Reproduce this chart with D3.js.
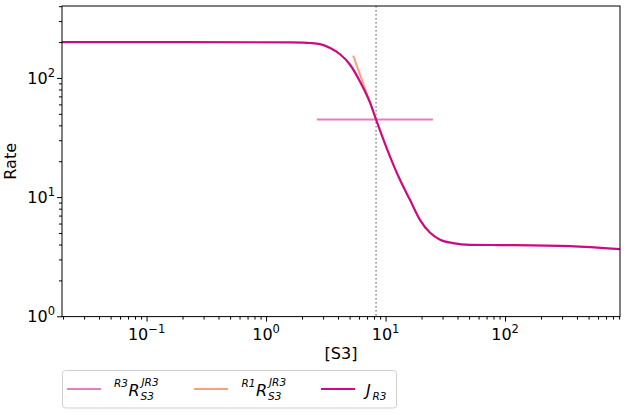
<!DOCTYPE html>
<html>
<head>
<meta charset="utf-8">
<script src="https://cdn.jsdelivr.net/npm/d3@7"></script>
<style>
  body { margin: 0; background: #fff; }
  svg { font-family: "DejaVu Sans", sans-serif; }
  .axis path, .axis line { stroke: #000; }
</style>
</head>
<body>
<svg id="chart" width="627" height="415"></svg>
<script>
//data
var sVals = [0.0196, 1.59, 2.04, 2.33, 2.83, 3.44, 4.16, 5.05, 6.12, 7.42, 8.33, 10.9, 13.2, 16.0, 19.4, 23.6, 28.6, 36.7, 50.9, 90.8, 350, 916];
var jVals = [200, 199, 198, 196.5, 192, 178, 158, 129, 93, 62, 44.8, 21.9, 13.97, 9.49, 6.45, 5.02, 4.39, 4.11, 3.98, 3.96, 3.88, 3.66];
//R3 response line (horizontal)
var sR3 = [2.66, 24.9];
var rateR3 = [44.8, 44.8];
//R1 response line (tangent)
var sR1 = [5.36, 8.33];
var rateR1 = [154, 44.8];
//steady state marker
var sStar = 8.33;
//axis ticks
var xMajor = [0.1, 1, 10, 100];
var xExp = ["\u22121", "0", "1", "2"];
var yMajor = [1, 10, 100];
var yExp = ["0", "1", "2"];

var colR3 = "#e87bc3", colR1 = "#fca07c", colJ = "#cd0a7f";

var svg = d3.select("#chart"),
  margin = { top: 6, right: 7, bottom: 98.4, left: 62 },
  width = +svg.attr("width") - margin.left - margin.right,
  height = +svg.attr("height") - margin.top - margin.bottom;

var x = d3.scaleLog().domain([0.0196, 916]).range([0, width]);
var y = d3.scaleLog().domain([0.994, 401.5]).range([height, 0]);

var g = svg.append("g")
  .attr("transform", "translate(" + margin.left + "," + margin.top + ")");

// -- minor ticks
function minors(dom) {
  var out = [];
  for (var e = -3; e <= 3; e++) {
    for (var m = 2; m <= 9; m++) {
      var v = m * Math.pow(10, e);
      if (v >= dom[0] && v <= dom[1]) out.push(v);
    }
  }
  return out;
}

g.append("g").attr("class", "axis")
  .attr("transform", "translate(0," + height + ")")
  .call(d3.axisBottom(x).tickValues(minors(x.domain())).tickSize(3).tickFormat(""));
g.append("g").attr("class", "axis")
  .attr("transform", "translate(0," + height + ")")
  .call(d3.axisBottom(x).tickValues(xMajor).tickSize(5).tickFormat(""));
g.append("g").attr("class", "axis")
  .call(d3.axisLeft(y).tickValues(minors(y.domain())).tickSize(3).tickFormat(""));
g.append("g").attr("class", "axis")
  .call(d3.axisLeft(y).tickValues(yMajor).tickSize(5).tickFormat(""));
g.selectAll(".axis .domain").remove();

// -- tick labels
xMajor.forEach(function(v, i) {
  var t = g.append("text")
    .attr("x", x(v)).attr("y", height + 23)
    .attr("text-anchor", "middle").attr("font-size", 16);
  t.append("tspan").text("10");
  t.append("tspan").attr("font-size", 11.5).attr("dy", -7).text(xExp[i]);
});
yMajor.forEach(function(v, i) {
  var t = g.append("text")
    .attr("x", -7).attr("y", y(v) + 6)
    .attr("text-anchor", "end").attr("font-size", 16);
  t.append("tspan").text("10");
  t.append("tspan").attr("font-size", 11.5).attr("dy", -7).text(yExp[i]);
});

// -- axis labels
g.append("text").attr("x", width / 2).attr("y", height + 42)
  .attr("text-anchor", "middle").attr("font-size", 16).text("[S3]");
g.append("text").attr("transform", "translate(-46," + (height / 2) + ") rotate(-90)")
  .attr("text-anchor", "middle").attr("font-size", 16).text("Rate");

// -- clip
svg.append("clipPath").attr("id", "clip").append("rect")
  .attr("width", width).attr("height", height);
var plot = g.append("g").attr("clip-path", "url(#clip)");

// -- steady state line
plot.append("line")
  .attr("x1", x(sStar)).attr("x2", x(sStar))
  .attr("y1", 0).attr("y2", height)
  .attr("stroke", "#888").attr("stroke-width", 1.5)
  .attr("stroke-dasharray", "1.5,2.5");

var line = d3.line()
  .x(function(d) { return x(d[0]); })
  .y(function(d) { return y(d[1]); });

plot.append("path")
  .datum(d3.zip(sR3, rateR3))
  .attr("d", line).attr("fill", "none")
  .attr("stroke", colR3).attr("stroke-width", 2);
plot.append("path")
  .datum(d3.zip(sR1, rateR1))
  .attr("d", line).attr("fill", "none")
  .attr("stroke", colR1).attr("stroke-width", 2);
plot.append("path")
  .datum(d3.zip(sVals, jVals))
  .attr("d", line.curve(d3.curveMonotoneX)).attr("fill", "none")
  .attr("stroke", colJ).attr("stroke-width", 2.2);

// -- frame
g.append("rect").attr("width", width).attr("height", height)
  .attr("fill", "none").attr("stroke", "#000").attr("stroke-width", 1);

// -- legend
var lg = svg.append("g");
lg.append("rect")
  .attr("x", 62.5).attr("y", 370.5).attr("width", 334).attr("height", 37.5)
  .attr("rx", 3).attr("fill", "#fff").attr("stroke", "#d0d0d0");

function legLine(x0, col) {
  lg.append("line").attr("x1", x0).attr("x2", x0 + 34)
    .attr("y1", 389).attr("y2", 389)
    .attr("stroke", col).attr("stroke-width", 2);
}
function sTxt(xp, yp, size, str, italic) {
  lg.append("text").attr("x", xp).attr("y", yp)
    .attr("font-size", size)
    .attr("font-style", italic ? "italic" : "normal")
    .text(str);
}
function respLabel(x0, pre) {
  sTxt(x0, 386.5, 10.5, pre, true);
  sTxt(x0 + 14.5, 396, 16, "R", true);
  sTxt(x0 + 27.5, 386, 10.5, "JR3", true);
  sTxt(x0 + 26.5, 399.5, 10.5, "S3", true);
}
legLine(67, colR3);
respLabel(114, "R3");
legLine(194, colR1);
respLabel(241.5, "R1");
legLine(321, colJ);
sTxt(366, 396, 16, "J", true);
sTxt(372.5, 399.5, 10.5, "R3", true);
</script>
</body>
</html>
